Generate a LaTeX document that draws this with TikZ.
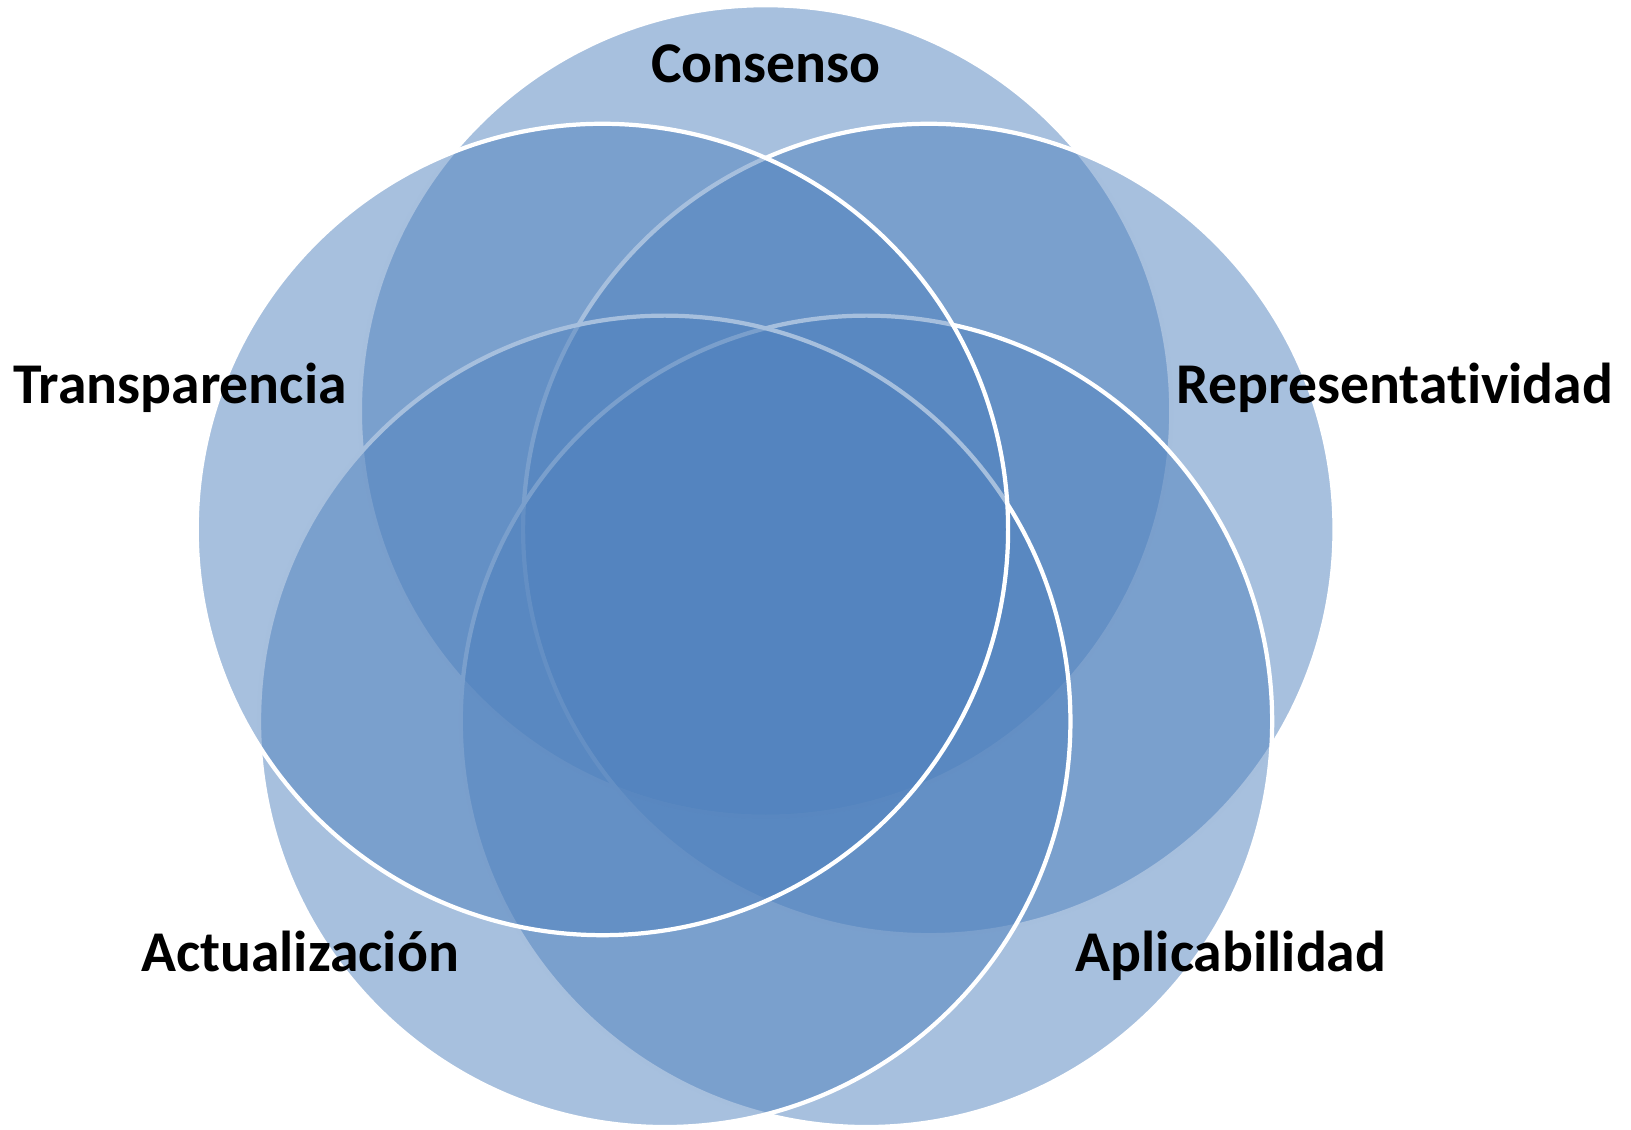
\documentclass[tikz,border=0pt]{standalone}
\usepackage{fontspec}
\setmainfont{Carlito}[Ligatures=NoCommon]
\definecolor{vennblue}{HTML}{4F81BD}

\begin{document}
\begin{tikzpicture}[x=0.01cm, y=0.01cm,
        ring/.style={fill=vennblue, fill opacity=0.5, draw=white, line width=1.2pt},
        tag/.style={anchor=base, font=\fontsize{16.4}{19}\selectfont\bfseries}]

            \useasboundingbox (0,0) rectangle (1631,1129);
            \coordinate (mid) at (765.6,546.5);

            \foreach \ang/\nm in {90/cons, 18/repr, -54/apli, -126/actu, 162/tran}
                \draw[ring] (mid) ++(\ang:171.6) coordinate (\nm) circle[radius=405.7];

            \node[tag] (consenso) at (766,1047) {Consenso};
            \node[tag] (representatividad) at (1395,726) {Representatividad};
            \node[tag] (aplicabilidad) at (1231,158) {Aplicabilidad};
            \node[tag] (actualizacion) at (300,158) {Actualización};
            \node[tag] (transparencia) at (180,726) {Transparencia};

        \end{tikzpicture}
\end{document}
